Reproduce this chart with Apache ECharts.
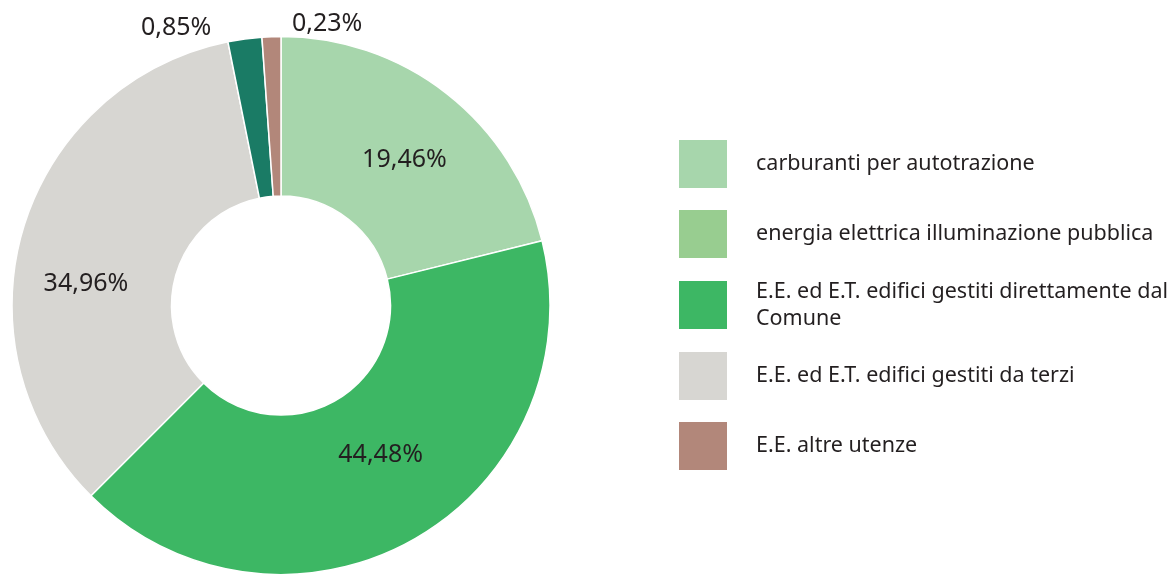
<!DOCTYPE html>
<html>
<head>
<meta charset="utf-8">
<script src="https://cdn.jsdelivr.net/npm/echarts@6/dist/echarts.min.js"></script>
<style>
  html, body { margin: 0; padding: 0; background: #fff; }
  #main { width: 1173px; height: 574px; }
</style>
</head>
<body>
<div id="main"></div>
<script>
// dati (ordine delle fette, in senso orario dall'alto)
var sliceNames = [
    'carburanti per autotrazione',
    'E.E. ed E.T. edifici gestiti direttamente dal Comune',
    'E.E. ed E.T. edifici gestiti da terzi',
    'energia elettrica illuminazione pubblica',
    'E.E. altre utenze'
];
// ampiezza delle fette come disegnate nel grafico
var sliceValues = [21.13, 41.36, 34.35, 2.03, 1.13];
// etichette stampate sul grafico
var pctLabels = ['19,46%', '44,48%', '34,96%', '0,85%', '0,23%'];

// ordine della legenda
var legendNames = [
    'carburanti per autotrazione',
    'energia elettrica illuminazione pubblica',
    'E.E. ed E.T. edifici gestiti direttamente dal Comune',
    'E.E. ed E.T. edifici gestiti da terzi',
    'E.E. altre utenze'
];
var legendText = [
    'carburanti per autotrazione',
    'energia elettrica illuminazione pubblica',
    'E.E. ed E.T. edifici gestiti direttamente dal\nComune',
    'E.E. ed E.T. edifici gestiti da terzi',
    'E.E. altre utenze'
];

// colori
var sliceColors = ['#a7d6ac', '#3db764', '#d7d6d2', '#1a7b65', '#b2877a'];
var legendColors = ['#a7d6ac', '#98cd90', '#3db764', '#d7d6d2', '#b2877a'];
var labelOffsets = [[5, 6], [5, -18], [-11, 34], [-79, -87], [53, -89]];

var myChart = echarts.init(document.getElementById('main'));

var pieData = [];
for (var i = 0; i < sliceNames.length; i++) {
    pieData.push({
        name: sliceNames[i],
        value: sliceValues[i],
        itemStyle: { color: sliceColors[i] },
        label: { offset: labelOffsets[i] }
    });
}

var legendData = [];
for (var j = 0; j < legendNames.length; j++) {
    legendData.push({
        name: legendNames[j],
        itemStyle: { color: legendColors[j] }
    });
}

var option = {
    backgroundColor: '#fff',
    animation: false,
    legend: {
        orient: 'vertical',
        left: 672,
        top: 133,
        icon: 'rect',
        itemWidth: 50,
        itemHeight: 50,
        itemGap: 18,
        selectedMode: false,
        data: legendData,
        formatter: function (name) {
            return legendText[legendNames.indexOf(name)];
        },
        textStyle: {
            fontFamily: 'Noto Sans',
            fontSize: 21.5,
            lineHeight: 27,
            color: '#231f20',
            padding: [0, 0, 0, 23]
        }
    },
    series: [{
        type: 'pie',
        center: [281, 305.5],
        radius: [109.5, 269],
        startAngle: 90,
        clockwise: true,
        avoidLabelOverlap: false,
        silent: true,
        itemStyle: {
            borderColor: '#fff',
            borderWidth: 1.5
        },
        label: {
            show: true,
            position: 'inside',
            formatter: function (p) {
                return pctLabels[p.dataIndex];
            },
            fontFamily: 'Noto Sans',
            fontSize: 25,
            color: '#231f20'
        },
        labelLine: { show: false },
        data: pieData
    }]
};

myChart.setOption(option);
</script>
</body>
</html>
